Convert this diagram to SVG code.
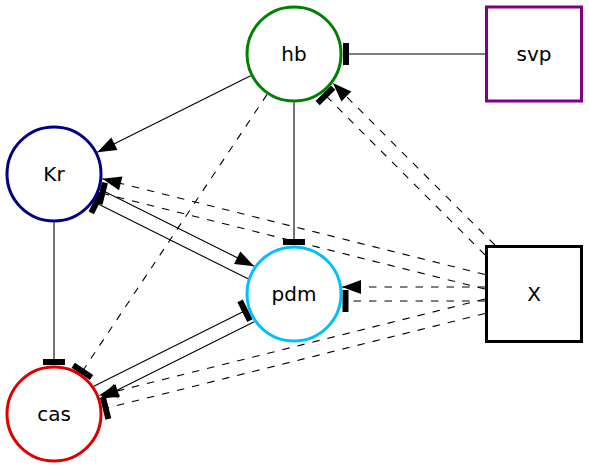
<svg xmlns="http://www.w3.org/2000/svg" width="589" height="469" viewBox="0 0 589 469">
<style>
  .lbl { font-family: "DejaVu Sans", "Liberation Sans", sans-serif; font-size: 20px; text-anchor: middle; fill: #000; }
  .node { fill: #fff; stroke-width: 3; }
  .e { stroke: #000; stroke-width: 1.1; fill: none; }
  .d { stroke-dasharray: 7.5 8; }
  .a { marker-end: url(#arrow); }
  .t { marker-end: url(#tee); }
</style>
<defs>
  <marker id="arrow" markerUnits="userSpaceOnUse" markerWidth="20" markerHeight="16" refX="19" refY="8" orient="auto" overflow="visible">
    <path d="M0,1 L19,8 L0,15 z" fill="#000" stroke="none"/>
  </marker>
  <marker id="tee" markerUnits="userSpaceOnUse" markerWidth="7" markerHeight="23" refX="3.5" refY="11.5" orient="auto" overflow="visible">
    <rect x="0.5" y="0.5" width="6" height="22" fill="#000" stroke="none"/>
  </marker>
</defs>
<rect width="589" height="469" fill="#fff"/>
<g id="edges">
  <line class="e t" x1="485" y1="54" x2="346" y2="54"/>
  <line class="e a" x1="250.6" y1="75.7" x2="97.4" y2="152.3"/>
  <line class="e d t" x1="267.1" y1="94.4" x2="82.4" y2="371.3"/>
  <line class="e t" x1="294" y1="102.5" x2="294" y2="242"/>
  <line class="e t" x1="54" y1="222.5" x2="54" y2="362"/>
  <line class="e a" x1="100" y1="189.2" x2="254.2" y2="266.2"/>
  <line class="e t" x1="248" y1="278.8" x2="96.2" y2="203"/>
  <line class="e a" x1="254.2" y1="321.8" x2="100" y2="398.8"/>
  <line class="e t" x1="93.8" y1="386.2" x2="245" y2="310.7"/>
  <line class="e d a" x1="494.9" y1="245" x2="332.9" y2="83"/>
  <line class="e d t" x1="485" y1="254.9" x2="325.4" y2="95.3"/>
  <line class="e d a" x1="485" y1="274.5" x2="102.3" y2="178.8"/>
  <line class="e d t" x1="485" y1="289" x2="102.3" y2="193.3"/>
  <line class="e d a" x1="485" y1="287" x2="342" y2="287"/>
  <line class="e d t" x1="485" y1="301" x2="345.5" y2="301"/>
  <line class="e d a" x1="485" y1="299" x2="98.9" y2="395.6"/>
  <line class="e d t" x1="485" y1="313.5" x2="105.7" y2="408.3"/>
</g>
<g id="hb">
  <circle class="node" cx="294" cy="54" r="47" stroke="#008000"/>
  <text class="lbl" x="294" y="61">hb</text>
</g>
<g id="svp">
  <rect class="node" x="486.5" y="7" width="95" height="94" stroke="#800080"/>
  <text class="lbl" x="534" y="61">svp</text>
</g>
<g id="Kr">
  <circle class="node" cx="54" cy="174" r="47" stroke="#000080"/>
  <text class="lbl" x="54" y="181">Kr</text>
</g>
<g id="pdm">
  <circle class="node" cx="294" cy="294" r="47" stroke="#00bfff"/>
  <text class="lbl" x="294" y="301">pdm</text>
</g>
<g id="cas">
  <circle class="node" cx="54" cy="414" r="47" stroke="#dd0000"/>
  <text class="lbl" x="54" y="421">cas</text>
</g>
<g id="X">
  <rect class="node" x="486.5" y="246.5" width="95" height="95" stroke="#000"/>
  <text class="lbl" x="534" y="301">X</text>
</g>
</svg>
